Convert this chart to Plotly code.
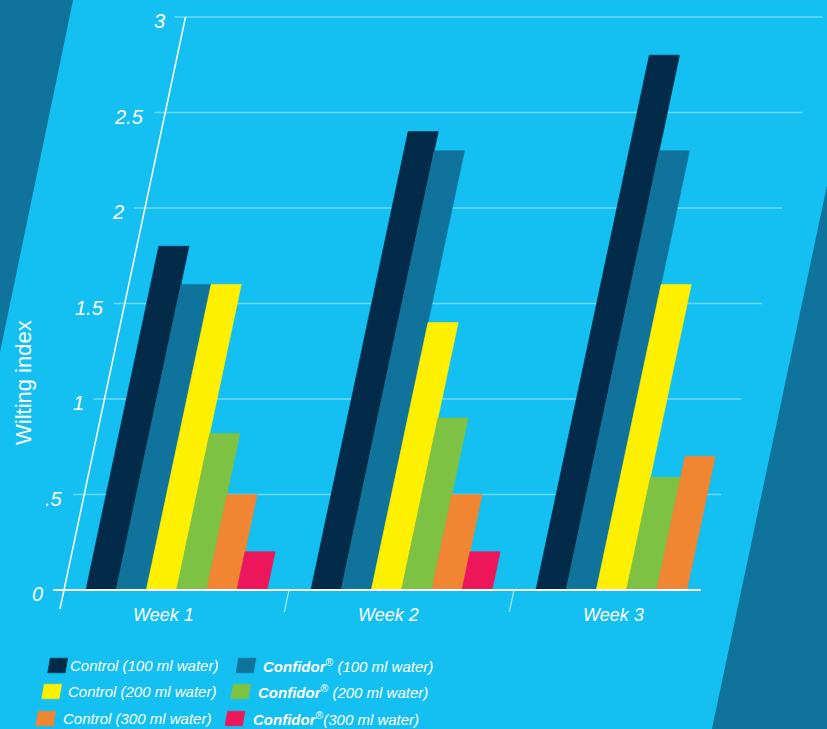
import plotly.graph_objects as go

# ---------------- data ----------------
weeks = ["Week 1", "Week 2", "Week 3"]
series_names = [
    "Control (100 ml water)",
    "Confidor® (100 ml water)",
    "Control (200 ml water)",
    "Confidor® (200 ml water)",
    "Control (300 ml water)",
    "Confidor®(300 ml water)",
]
series_labels_html = [
    "<i>Control (100 ml water)</i>",
    "<b><i>Confidor</i></b><sup>®</sup><i> (100 ml water)</i>",
    "<i>Control (200 ml water)</i>",
    "<b><i>Confidor</i></b><sup>®</sup><i> (200 ml water)</i>",
    "<i>Control (300 ml water)</i>",
    "<b><i>Confidor</i></b><sup>®</sup><i>(300 ml water)</i>",
]
series_colors = ["#012B48", "#10739B", "#FFEF00", "#7DC242", "#F08532", "#EE165A"]

control_100 = [1.8, 2.4, 2.8]
confidor_100 = [1.6, 2.3, 2.3]
control_200 = [1.6, 1.4, 1.6]
confidor_200 = [0.82, 0.9, 0.59]
control_300 = [0.5, 0.5, 0.7]
confidor_300 = [0.2, 0.2, None]
series_values = [control_100, confidor_100, control_200, confidor_200, control_300, confidor_300]

y_ticks = [0, 0.5, 1, 1.5, 2, 2.5, 3]
y_tick_text = ["0", ".5", "1", "1.5", "2", "2.5", "3"]
y_title = "Wilting index"

# ---------------- layout constants ----------------
W, H = 827, 729
BG = "#13C0F1"
STRIPE = "#10739B"
GRID = "rgba(255,255,255,0.38)"
PX_PER_CAT = 225.0
X0 = 64.0          # pixel x of axis origin
Y0 = 590.0         # pixel y of value 0
PX_PER_UNIT = 191.0
SKEW = 40.5 / PX_PER_CAT   # horizontal lean (category units) per value unit


def ux(px):
    return (px - X0) / PX_PER_CAT


def vy(py):
    return (Y0 - py) / PX_PER_UNIT


AXIS_END = ux(701)
BAR_W = 30.2 / PX_PER_CAT
N = len(series_values)
GROUP_OFF = 0.5 - N * BAR_W / 2

FONT = "Liberation Sans, Arial, Helvetica, sans-serif"

fig = go.Figure()

# gridlines (lean with the skew)
for t in y_ticks[1:]:
    fig.add_trace(go.Scatter(
        x=[SKEW * t - 11 / PX_PER_CAT, AXIS_END + SKEW * t], y=[t, t],
        mode="lines", line=dict(color=GRID, width=1.6),
        hoverinfo="skip", showlegend=False))

# bars as skewed parallelograms
for si, vals in enumerate(series_values):
    xs, ys = [], []
    for gi, v in enumerate(vals):
        if v is None or v == 0:
            continue
        left = gi + GROUP_OFF + si * BAR_W
        xs += [left, left + BAR_W, left + BAR_W + SKEW * v, left + SKEW * v, left, None]
        ys += [0, 0, v, v, 0, None]
    fig.add_trace(go.Scatter(
        x=xs, y=ys, mode="lines", fill="toself",
        fillcolor=series_colors[si],
        line=dict(color=series_colors[si], width=0.6),
        name=series_names[si], hoverinfo="skip", showlegend=False))

# y axis line (leaning)
ax_bottom = vy(609)
fig.add_trace(go.Scatter(
    x=[SKEW * ax_bottom, SKEW * y_ticks[-1]], y=[ax_bottom, y_ticks[-1]],
    mode="lines", line=dict(color="white", width=1.5),
    hoverinfo="skip", showlegend=False))

# category separator ticks
tick_len = vy(612)
for k in range(1, len(weeks)):
    fig.add_trace(go.Scatter(
        x=[k, k + SKEW * tick_len], y=[0, tick_len],
        mode="lines", line=dict(color="rgba(255,255,255,0.75)", width=1),
        hoverinfo="skip", showlegend=False))

# baseline
fig.add_trace(go.Scatter(
    x=[ux(53), AXIS_END], y=[0, 0], mode="lines",
    line=dict(color="white", width=2), hoverinfo="skip", showlegend=False))

annotations = []
# y tick labels
for t, txt in zip(y_ticks, y_tick_text):
    annotations.append(dict(
        x=SKEW * t - 19 / PX_PER_CAT, y=t - 4 / PX_PER_UNIT, xref="x", yref="y",
        text="<i>" + txt + "</i>", showarrow=False, xanchor="right", yanchor="middle",
        font=dict(family=FONT, size=20, color="white")))

# category labels
for gi, wk in enumerate(weeks):
    annotations.append(dict(
        x=gi + 0.5 - 0.058, y=vy(615), xref="x", yref="y",
        text="<i>" + wk + "</i>", showarrow=False, xanchor="center", yanchor="middle",
        font=dict(family=FONT, size=18, color="white")))

# y title
annotations.append(dict(
    x=ux(23), y=vy(383), xref="x", yref="y", text=y_title, textangle=-90,
    showarrow=False, xanchor="center", yanchor="middle",
    font=dict(family=FONT, size=22, color="white")))

# custom legend (skewed swatches)
row_py = [665.5, 691.5, 718.5]
swatch_px = [[47.7, 41.7, 35.7], [236.0, 230.7, 225.0]]
text_px = [[68.0, 66.0, 61.0], [261.0, 255.5, 250.5]]
SW_W, SW_H, SW_SKEW = 17.5, 14.7, 2.5
for si in range(N):
    col, row = si % 2, si // 2
    bl = swatch_px[col][row]
    bot, top = row_py[row] + SW_H / 2, row_py[row] - SW_H / 2
    fig.add_trace(go.Scatter(
        x=[ux(bl), ux(bl + SW_W), ux(bl + SW_W + SW_SKEW), ux(bl + SW_SKEW), ux(bl)],
        y=[vy(bot), vy(bot), vy(top), vy(top), vy(bot)],
        mode="lines", fill="toself", fillcolor=series_colors[si],
        line=dict(color=series_colors[si], width=0.5),
        hoverinfo="skip", showlegend=False))
    annotations.append(dict(
        x=ux(text_px[col][row]), y=vy(row_py[row]), xref="x", yref="y",
        text=series_labels_html[si], showarrow=False, xanchor="left", yanchor="middle",
        font=dict(family=FONT, size=15, color="white")))

# background diagonal stripes (paper coords)
def pp(px, py):
    return f"{px / W:.5f},{1 - py / H:.5f}"

shapes = [
    dict(type="path", xref="paper", yref="paper", layer="below",
         path=f"M {pp(-2, -2)} L {pp(73.5, -2)} L {pp(-2, 362)} Z",
         fillcolor=STRIPE, line=dict(width=0)),
    dict(type="path", xref="paper", yref="paper", layer="below",
         path=f"M {pp(829, 176)} L {pp(711.5, 731)} L {pp(829, 731)} Z",
         fillcolor=STRIPE, line=dict(width=0)),
]

fig.update_layout(
    width=W, height=H, margin=dict(l=0, r=0, t=0, b=0),
    paper_bgcolor=BG, plot_bgcolor="rgba(0,0,0,0)",
    xaxis=dict(range=[ux(0), ux(W)], visible=False, fixedrange=True),
    yaxis=dict(range=[vy(H), vy(0)], visible=False, fixedrange=True),
    annotations=annotations, shapes=shapes, showlegend=False,
)

fig.write_html("out.html")
